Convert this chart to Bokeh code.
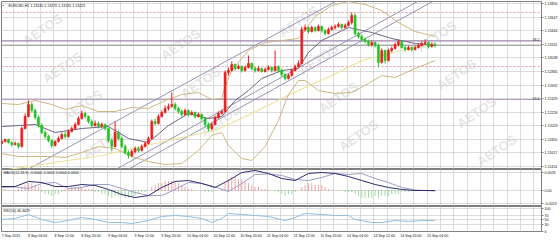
from bokeh.plotting import figure
from bokeh.layouts import column
from bokeh.models import (Range1d, FixedTicker, Grid, Span, Label, PrintfTickFormatter,
                          CustomJSTickFormatter, ColumnDataSource)
from bokeh.embed import file_html
from bokeh.resources import INLINE

# ---------------- data ----------------
header = "EURUSD,H1  1.13240 1.13270 1.13195 1.13225"
macd_title = "MACD(12,26,9) -0.0000 -0.0001 0.0000 0.0000"
rsi_title = "RSI(14) 46.3429"

x_labels = ["7 Sep 2015", "8 Sep 04:00", "8 Sep 12:00", "8 Sep 20:00", "9 Sep 04:00",
            "9 Sep 12:00", "9 Sep 20:00", "10 Sep 04:00", "10 Sep 12:00", "10 Sep 20:00",
            "11 Sep 04:00", "11 Sep 12:00", "11 Sep 20:00", "14 Sep 04:00", "14 Sep 12:00",
            "14 Sep 20:00", "15 Sep 04:00"]
x_label_bars = [0, 8, 16, 24, 32, 40, 48, 56, 64, 72, 80, 88, 96, 104, 112, 120, 128]

opens = [1.11755, 1.11785, 1.11815, 1.11770, 1.11740, 1.11755, 1.11710, 1.11980, 1.12160, 1.12340,
         1.12250, 1.12145, 1.12025, 1.11920, 1.11860, 1.11800, 1.11725, 1.11785, 1.11830, 1.11890,
         1.11860, 1.11935, 1.11980, 1.12040, 1.12130, 1.12205, 1.12160, 1.12085, 1.12025, 1.12055,
         1.12010, 1.12040, 1.11980, 1.11800, 1.11710, 1.11920, 1.11830, 1.11710, 1.11620, 1.11575,
         1.11635, 1.11680, 1.11650, 1.11710, 1.11755, 1.11830, 1.12085, 1.12055, 1.12160, 1.12220,
         1.12280, 1.12310, 1.12340, 1.12280, 1.12235, 1.12190, 1.12250, 1.12190, 1.12220, 1.12160,
         1.12190, 1.12130, 1.12040, 1.11980, 1.12040, 1.12145, 1.12205, 1.12235, 1.12820, 1.12850,
         1.12940, 1.12880, 1.12910, 1.12850, 1.12895, 1.12955, 1.12880, 1.12850, 1.12880, 1.12835,
         1.12865, 1.12895, 1.12850, 1.12910, 1.12850, 1.12790, 1.12730, 1.12775, 1.12850, 1.12910,
         1.12955, 1.13465, 1.13495, 1.13435, 1.13495, 1.13450, 1.13510, 1.13450, 1.13405, 1.13465,
         1.13495, 1.13510, 1.13540, 1.13495, 1.13525, 1.13570, 1.13675, 1.13405, 1.13360, 1.13315,
         1.13285, 1.13240, 1.13270, 1.13225, 1.12970, 1.13150, 1.13000, 1.13150, 1.13180, 1.13240,
         1.13285, 1.13195, 1.13165, 1.13195, 1.13165, 1.13195, 1.13225, 1.13255, 1.13270, 1.13210,
         1.13240]
highs = [1.11815, 1.11830, 1.11830, 1.11785, 1.11785, 1.11770, 1.12010, 1.12205, 1.12400, 1.12370,
         1.12280, 1.12175, 1.12055, 1.11950, 1.11890, 1.11815, 1.11800, 1.11860, 1.11920, 1.11935,
         1.11965, 1.12010, 1.12070, 1.12160, 1.12250, 1.12235, 1.12175, 1.12115, 1.12100, 1.12085,
         1.12070, 1.12055, 1.11995, 1.11830, 1.12085, 1.11950, 1.11860, 1.11740, 1.11650, 1.11665,
         1.11710, 1.11710, 1.11740, 1.11785, 1.11860, 1.12115, 1.12130, 1.12190, 1.12250, 1.12325,
         1.12355, 1.12520, 1.12370, 1.12310, 1.12265, 1.12280, 1.12265, 1.12250, 1.12235, 1.12220,
         1.12205, 1.12145, 1.12070, 1.12070, 1.12175, 1.12235, 1.12265, 1.12850, 1.12895, 1.12985,
         1.12955, 1.12940, 1.12925, 1.12925, 1.13075, 1.12970, 1.12910, 1.12910, 1.12895, 1.12895,
         1.12925, 1.12910, 1.13150, 1.12925, 1.12880, 1.12805, 1.12805, 1.12880, 1.12940, 1.13000,
         1.13510, 1.13540, 1.13510, 1.13525, 1.13510, 1.13540, 1.13525, 1.13465, 1.13495, 1.13525,
         1.13540, 1.13570, 1.13555, 1.13555, 1.13600, 1.13720, 1.13705, 1.13435, 1.13390, 1.13345,
         1.13315, 1.13300, 1.13285, 1.13255, 1.13180, 1.13165, 1.13180, 1.13210, 1.13270, 1.13315,
         1.13300, 1.13225, 1.13225, 1.13210, 1.13225, 1.13255, 1.13285, 1.13315, 1.13285, 1.13270,
         1.13270]
lows = [1.11740, 1.11770, 1.11755, 1.11710, 1.11725, 1.11680, 1.11695, 1.11965, 1.12145, 1.12220,
        1.12115, 1.11995, 1.11890, 1.11830, 1.11770, 1.11695, 1.11710, 1.11770, 1.11815, 1.11830,
        1.11845, 1.11920, 1.11965, 1.12025, 1.12115, 1.12130, 1.12055, 1.11995, 1.12010, 1.11980,
        1.11995, 1.11950, 1.11770, 1.11635, 1.11695, 1.11800, 1.11680, 1.11590, 1.11530, 1.11545,
        1.11605, 1.11620, 1.11635, 1.11695, 1.11740, 1.11815, 1.12025, 1.12040, 1.12145, 1.12205,
        1.12250, 1.12295, 1.12250, 1.12205, 1.12160, 1.12175, 1.12160, 1.12175, 1.12130, 1.12145,
        1.12100, 1.12010, 1.11935, 1.11950, 1.12025, 1.12130, 1.12190, 1.12220, 1.12775, 1.12835,
        1.12850, 1.12865, 1.12820, 1.12835, 1.12880, 1.12850, 1.12820, 1.12835, 1.12820, 1.12820,
        1.12850, 1.12820, 1.12835, 1.12820, 1.12760, 1.12700, 1.12715, 1.12760, 1.12835, 1.12895,
        1.12940, 1.13435, 1.13405, 1.13420, 1.13420, 1.13435, 1.13420, 1.13375, 1.13390, 1.13450,
        1.13465, 1.13495, 1.13465, 1.13480, 1.13510, 1.13540, 1.13375, 1.13330, 1.13285, 1.13255,
        1.13210, 1.13210, 1.13195, 1.12895, 1.12955, 1.12955, 1.12985, 1.13120, 1.13165, 1.13210,
        1.13180, 1.13135, 1.13150, 1.13135, 1.13150, 1.13180, 1.13210, 1.13240, 1.13180, 1.13195,
        1.13195]
closes = [1.11785, 1.11815, 1.11770, 1.11740, 1.11755, 1.11710, 1.11980, 1.12160, 1.12340, 1.12250,
          1.12145, 1.12025, 1.11920, 1.11860, 1.11800, 1.11725, 1.11785, 1.11830, 1.11890, 1.11860,
          1.11935, 1.11980, 1.12040, 1.12130, 1.12205, 1.12160, 1.12085, 1.12025, 1.12055, 1.12010,
          1.12040, 1.11980, 1.11800, 1.11710, 1.11920, 1.11830, 1.11710, 1.11620, 1.11575, 1.11635,
          1.11680, 1.11650, 1.11710, 1.11755, 1.11830, 1.12085, 1.12055, 1.12160, 1.12220, 1.12280,
          1.12310, 1.12340, 1.12280, 1.12235, 1.12190, 1.12250, 1.12190, 1.12220, 1.12160, 1.12190,
          1.12130, 1.12040, 1.11980, 1.12040, 1.12145, 1.12205, 1.12235, 1.12820, 1.12850, 1.12940,
          1.12880, 1.12910, 1.12850, 1.12895, 1.12955, 1.12880, 1.12850, 1.12880, 1.12835, 1.12865,
          1.12895, 1.12850, 1.12910, 1.12850, 1.12790, 1.12730, 1.12775, 1.12850, 1.12910, 1.12955,
          1.13465, 1.13495, 1.13435, 1.13495, 1.13450, 1.13510, 1.13450, 1.13405, 1.13465, 1.13495,
          1.13510, 1.13540, 1.13495, 1.13525, 1.13570, 1.13675, 1.13405, 1.13360, 1.13315, 1.13285,
          1.13240, 1.13270, 1.13225, 1.12970, 1.13150, 1.13000, 1.13150, 1.13180, 1.13240, 1.13285,
          1.13195, 1.13165, 1.13195, 1.13165, 1.13195, 1.13225, 1.13255, 1.13270, 1.13210, 1.13240,
          1.13225]

# Bollinger bands and moving averages, read at sampled bars
bb_upper_bars = [0, 5, 10, 15, 19, 24, 29, 34, 39, 44, 49, 54, 59, 63, 66, 67, 69, 74, 79, 84,
                 89, 91, 94, 99, 104, 109, 114, 119, 124, 130]
bb_upper = [1.12355, 1.12340, 1.12400, 1.12340, 1.12265, 1.12325, 1.12235, 1.12235, 1.12295, 1.12280,
            1.12400, 1.12490, 1.12520, 1.12415, 1.12430, 1.12610, 1.12850, 1.13150, 1.13270, 1.13300,
            1.13330, 1.13450, 1.13660, 1.13825, 1.13885, 1.13840, 1.13750, 1.13570, 1.13435, 1.13360]
bb_lower_bars = [0, 5, 10, 15, 19, 24, 29, 34, 39, 44, 49, 54, 59, 63, 66, 68, 72, 75, 79, 83,
                 86, 89, 91, 95, 100, 105, 110, 114, 118, 124, 130]
bb_lower = [1.11605, 1.11560, 1.11560, 1.11560, 1.11545, 1.11620, 1.11710, 1.11680, 1.11560, 1.11485,
            1.11440, 1.11455, 1.11650, 1.11875, 1.11920, 1.11725, 1.11530, 1.11500, 1.11710, 1.12100,
            1.12490, 1.12700, 1.12700, 1.12550, 1.12505, 1.12520, 1.12655, 1.12775, 1.12745, 1.12880,
            1.13000]
ma_fast_bars = [0, 10, 16, 24, 32, 38, 44, 50, 56, 62, 66, 67, 70, 74, 78, 84, 89, 92, 96, 104,
                111, 117, 124, 130]
ma_fast = [1.12010, 1.12040, 1.11920, 1.11980, 1.12010, 1.11830, 1.11770, 1.12025, 1.12205, 1.12130,
           1.12160, 1.12220, 1.12400, 1.12550, 1.12730, 1.12850, 1.12880, 1.13120, 1.13300, 1.13495,
           1.13420, 1.13330, 1.13255, 1.13225]
ma_slow_bars = [0, 30, 54, 64, 75, 87, 99, 108, 120, 130]
ma_slow = [1.11350, 1.11575, 1.11845, 1.11950, 1.12205, 1.12505, 1.12775, 1.13000, 1.13150, 1.13255]

# trend channel lines: (bar, price) -> (bar, price)
trend_x0 = [0, 30, 30]
trend_y0 = [1.11154, 1.11150, 1.11248]
trend_x1 = [110, 140, 130]
trend_y1 = [1.14154, 1.14181, 1.14032]

# horizontal levels
fib_382 = 1.13295
fib_236 = 1.12415
level_high = 1.13720
level_low = 1.12910
bid_price = 1.13225

price_ticks = [1.13850, 1.13647, 1.13444, 1.13241, 1.13038, 1.12835, 1.12632,
               1.12429, 1.12226, 1.12023, 1.11820, 1.11617, 1.11414]

macd_hist = [0.00015, 0.00015, 0.00007, 0.0, 0.00007, 0.00015, 0.00044, 0.00073, 0.00102, 0.00102,
             0.00087, 0.00044, -0.00015, -0.00044, -0.00058, -0.00073, -0.00058, -0.00044, -0.00015, 0.00015,
             0.00029, 0.00044, 0.00044, 0.00044, 0.00044, 0.00029, 0.00029, 0.00015, -0.00015, -0.00029,
             -0.00044, -0.00058, -0.00073, -0.00102, -0.00087, -0.00073, -0.00087, -0.00102, -0.00102, -0.00087,
             -0.00073, -0.00044, -0.00029, -0.00015, 0.0, 0.00044, 0.00073, 0.00102, 0.00116, 0.00131,
             0.00145, 0.00145, 0.00131, 0.00116, 0.00087, 0.00058, 0.00029, 0.00015, 0.00007, 0.0,
             -0.00007, -0.00015, -0.00022, -0.00015, -0.00007, 0.0, 0.00029, 0.00116, 0.00160, 0.00189,
             0.00189, 0.00174, 0.00160, 0.00131, 0.00102, 0.00073, 0.00058, 0.00044, 0.00029, 0.00015,
             0.00007, 0.0, -0.00007, -0.00029, -0.00044, -0.00073, -0.00058, -0.00044, -0.00015, 0.0,
             0.00044, 0.00073, 0.00102, 0.00102, 0.00087, 0.00087, 0.00073, 0.00044, 0.00015, 0.00007,
             0.0, 0.0, -0.00007, -0.00015, -0.00029, -0.00015, -0.00058, -0.00087, -0.00102, -0.00102,
             -0.00102, -0.00102, -0.00087, -0.00102, -0.00087, -0.00073, -0.00073, -0.00058, -0.00044, -0.00044,
             -0.00029, -0.00022, -0.00015, -0.00007, -0.00007, 0.0, 0.0, 0.0, 0.0, 0.00007,
             0.00007]
macd_bars = [0, 4, 8, 12, 16, 20, 24, 28, 32, 36, 40, 44, 48, 52, 56, 60, 64, 68, 72, 76,
             80, 84, 88, 92, 96, 100, 104, 108, 112, 116, 120, 124, 130]
macd_main = [0.00058, 0.00058, 0.00131, 0.00116, 0.00058, 0.00058, 0.00087, 0.00073, 0.00015, -0.00058,
             -0.00102, -0.00073, 0.00044, 0.00131, 0.00145, 0.00102, 0.00044, 0.00145, 0.00261, 0.00290,
             0.00247, 0.00174, 0.00145, 0.00247, 0.00261, 0.00247, 0.00203, 0.00145, 0.00087, 0.00044,
             0.00015, 0.0, 0.0]
macd_signal = [0.00044, 0.00051, 0.00029, 0.00102, 0.00116, 0.00029, 0.00044, 0.00087, 0.00087, 0.00029,
               -0.00029, -0.00073, -0.00073, 0.00015, 0.00116, 0.00102, 0.00051, -0.00015, 0.00102, 0.00232,
               0.00239, 0.00218, 0.00160, 0.00145, 0.00189, 0.00247, 0.00232, 0.00247, 0.00174, 0.00116,
               0.00044, 0.00007, -0.00007]
macd_ticks = [-0.0019, 0.0, 0.0026]

rsi_bars = [0, 4, 8, 12, 16, 20, 24, 28, 32, 36, 39, 44, 48, 52, 56, 60, 63, 66, 68, 72,
            76, 80, 85, 88, 91, 96, 100, 104, 106, 111, 114, 118, 122, 126, 130]
rsi_vals = [51.1, 55.3, 72.3, 51.1, 38.3, 46.8, 59.6, 51.1, 38.3, 38.3, 34.0, 46.8, 63.8, 68.1, 63.8,
            55.3, 38.3, 55.3, 76.6, 72.3, 68.1, 63.8, 46.8, 59.6, 76.6, 72.3, 68.1, 68.1, 51.1, 38.3,
            38.3, 46.8, 42.6, 46.8, 46.3]
rsi_ticks = [0, 30, 50, 70, 100]

# ---------------- styling / layout ----------------
FONT = "Liberation Sans"
FS = "3.6px"
GRID = "#b9b9b9"
BORDER = "#808080"
UP, DOWN = "#ee1c1c", "#22c422"
PX_PER_BAR = 3.333
X0 = -0.09
X1 = X0 + 540 / PX_PER_BAR
grid_ticks = [4 * k - 0.4 for k in range(42)]
label_ticks = [b + 2.75 for b in x_label_bars]


def base_fig(height, y0, y1, top=0, bottom=0, x_axis=None):
    p = figure(width=560, height=height, x_range=Range1d(X0, X1), y_range=Range1d(y0, y1),
               y_axis_location="right", x_axis_location=x_axis, toolbar_location=None,
               output_backend="svg", min_border_left=1, min_border_right=19,
               min_border_top=top, min_border_bottom=bottom)
    p.background_fill_color = "white"
    p.border_fill_color = "white"
    p.outline_line_color = BORDER
    p.outline_line_width = 1
    ax = p.yaxis[0]
    ax.axis_line_color = None
    ax.major_tick_out = 2
    ax.major_tick_in = 0
    ax.minor_tick_out = 0
    ax.minor_tick_in = 0
    ax.major_tick_line_color = BORDER
    ax.major_label_text_font = FONT
    ax.major_label_text_font_size = FS
    ax.major_label_text_color = "#111111"
    ax.major_label_standoff = 1
    p.ygrid.grid_line_color = GRID
    p.ygrid.grid_line_dash = "1 1"
    p.xgrid.visible = False
    p.add_layout(Grid(dimension=0, ticker=FixedTicker(ticks=grid_ticks),
                      grid_line_color=GRID, grid_line_dash="1 1"))
    return p


def small_label(p, x, y, text, **kw):
    p.add_layout(Label(x=x, y=y, x_units="screen", y_units="screen", text=text,
                       text_font=FONT, text_font_size=FS, text_color="#111111",
                       text_baseline="middle", **kw))


# ---- main panel ----
p1 = base_fig(169, 1.11365, 1.13885, top=1)
p1.yaxis[0].ticker = FixedTicker(ticks=price_ticks)
p1.yaxis[0].formatter = PrintfTickFormatter(format="%.5f")

# watermark (decoration, drawn first, underneath everything)
for i in range(-3, 3):
    for j in range(-4, 5):
        cx, cy = 338 + 118 * i + 20 * j, 97 - 23 * i + 38 * j
        if 26 <= cx <= 534 and 19 <= cy <= 151:
            p1.add_layout(Label(x=cx - 1, y=169 - cy, x_units="screen", y_units="screen",
                                text="AETOS", text_font=FONT, text_font_size="13px",
                                text_font_style="bold", text_color="#cccccc", text_alpha=0.5,
                                angle=0.6, text_align="center", text_baseline="middle",
                                level="underlay"))

for loc, col, dash, w in [(level_high, "#e59a9a", "2 2", 1), (level_low, "#e59a9a", "2 2", 1),
                          (bid_price, "#a8a8a8", "solid", 1),
                          (fib_382, "#9c86ad", "solid", 1.3), (fib_236, "#b39fc2", "solid", 1.2)]:
    p1.add_layout(Span(location=loc, dimension="width", line_color=col, line_dash=dash,
                       line_width=w, level="underlay"))

p1.segment(x0=trend_x0, y0=trend_y0, x1=trend_x1, y1=trend_y1, line_color="#9595b5", line_width=1)
p1.line(ma_slow_bars, ma_slow, line_color="#ece39a", line_width=1.2)
p1.line(bb_upper_bars, bb_upper, line_color="#cdb682", line_width=1)
p1.line(bb_lower_bars, bb_lower, line_color="#cdb682", line_width=1)
p1.line(ma_fast_bars, ma_fast, line_color="#6f6585", line_width=1)

n = len(closes)
colors = [UP if c >= o else DOWN for o, c in zip(opens, closes)]
src = ColumnDataSource(dict(x=list(range(n)), high=highs, low=lows,
                            top=[max(o, c) for o, c in zip(opens, closes)],
                            bottom=[min(o, c) for o, c in zip(opens, closes)],
                            color=colors))
p1.segment(x0="x", y0="low", x1="x", y1="high", source=src, line_color="color", line_width=1)
p1.vbar(x="x", width=0.6, top="top", bottom="bottom", source=src,
        fill_color="color", line_color="color", line_width=0.6)

small_label(p1, 1, 164, "\u25aa")
small_label(p1, 7, 164, header)
for price, bg in [(level_high, "#e01818"), (level_low, "#e01818"), (bid_price, "#000000")]:
    p1.add_layout(Label(x=541, y=price, x_units="screen", y_units="data", text="%.5f" % price,
                        text_font=FONT, text_font_size=FS, text_color="white",
                        text_baseline="middle", background_fill_color=bg, padding=1))
for price, txt in [(fib_382, "38.2"), (fib_236, "23.6")]:
    p1.add_layout(Label(x=538, y=price, x_units="screen", y_units="data", text=txt,
                        text_font=FONT, text_font_size=FS, text_color="#333333",
                        text_align="right", text_baseline="bottom"))

# ---- MACD panel ----
p2 = base_fig(37, -0.00232, 0.003045)
p2.yaxis[0].ticker = FixedTicker(ticks=macd_ticks)
p2.yaxis[0].formatter = CustomJSTickFormatter(code="return tick == 0 ? '0.00' : tick.toFixed(4);")
hsrc = ColumnDataSource(dict(x=list(range(n)), h=macd_hist, z=[0.0] * n,
                             color=["#e04848" if v >= 0 else "#46b846" for v in macd_hist]))
p2.segment(x0="x", y0="z", x1="x", y1="h", source=hsrc, line_color="color",
           line_width=1, line_dash="1 1")
p2.line(macd_bars, macd_signal, line_color="#9d9dc6", line_width=1)
p2.line(macd_bars, macd_main, line_color="#2c2c6e", line_width=1)
small_label(p2, 2, 34, macd_title)

# ---- RSI panel ----
p3 = base_fig(35, 0, 106.4, bottom=10, x_axis="below")
p3.yaxis[0].ticker = FixedTicker(ticks=rsi_ticks)
p3.yaxis[0].formatter = PrintfTickFormatter(format="%d")
xa = p3.xaxis[0]
xa.ticker = FixedTicker(ticks=label_ticks)
xa.formatter = CustomJSTickFormatter(args=dict(names=x_labels, pos=label_ticks),
                                     code="const i = pos.findIndex(v => Math.abs(v - tick) < 0.01); return i >= 0 ? names[i] : '';")
xa.axis_line_color = None
xa.major_tick_out = 0
xa.major_tick_in = 0
xa.minor_tick_out = 0
xa.minor_tick_in = 0
xa.major_label_standoff = 2
xa.major_label_text_font = FONT
xa.major_label_text_font_size = FS
xa.major_label_text_color = "#111111"
p3.line(rsi_bars, rsi_vals, line_color="#8fbedc", line_width=1)
small_label(p3, 2, 21, rsi_title)

layout = column(p1, p2, p3, spacing=0)
open("out.html", "w").write(file_html(layout, INLINE))
